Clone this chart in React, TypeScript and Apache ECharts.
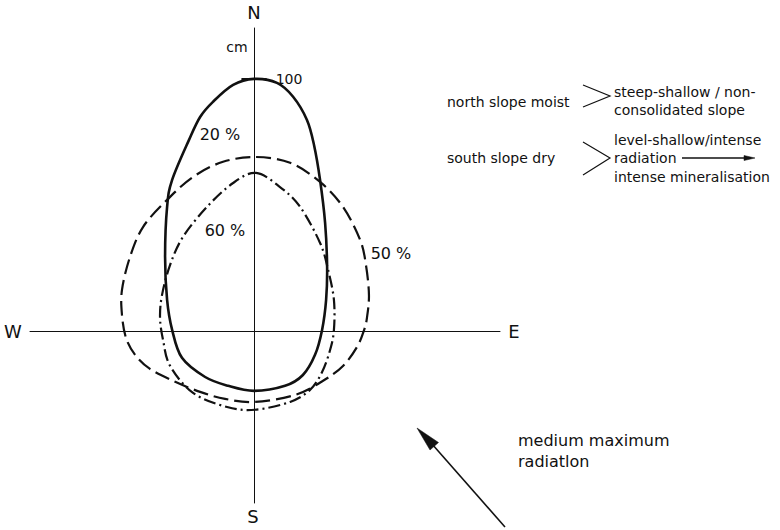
import React, { useEffect, useRef } from "react";
import * as echarts from "echarts";

// Closed curve outlines (x: W-E, y: S-N), in cm
const curve20: [number, number][] = [
  [0, 100], [9.1, 98.4], [15.5, 92.9], [21.0, 83.7], [23.8, 73.8], [26.2, 59.9],
  [28.2, 42.9], [29.0, 25.4], [28.6, 12.3], [27.0, 0.4], [24.2, -9.5], [19.4, -17.5],
  [12.3, -21.8], [0, -23.8], [-10.3, -21.8], [-19.4, -18.3], [-28.6, -10.7], [-32.5, 0.4],
  [-34.5, 12.3], [-35.3, 29.4], [-34.5, 49.2], [-32.5, 59.9], [-25.8, 75.8], [-21.4, 84.9],
  [-16.3, 90.9], [-8.3, 97.6],
];
const curve50: [number, number][] = [
  [0.8, 69.0], [14.3, 66.7], [26.2, 59.1], [35.3, 49.2], [42.1, 36.1], [44.4, 26.2],
  [45.6, 14.3], [44.8, 5.2], [43.7, 0.4], [40.9, -6.3], [35.3, -13.9], [27.4, -19.8],
  [16.3, -25.4], [0.4, -28.2], [-11.5, -27.0], [-21.4, -24.2], [-31.3, -20.2], [-41.3, -15.1],
  [-47.2, -9.5], [-50.8, -2.8], [-52.4, 6.3], [-52.4, 16.3], [-49.2, 29.4], [-44.0, 41.3],
  [-34.5, 52.0], [-24.2, 61.1], [-12.3, 67.1],
];
const curve60: [number, number][] = [
  [0.8, 62.7], [10.3, 57.1], [18.3, 49.2], [26.2, 34.9], [29.4, 24.2], [31.7, 12.3],
  [31.7, 0.4], [30.2, -7.5], [27.0, -16.3], [22.2, -23.4], [14.3, -28.2], [0.4, -31.3],
  [-10.7, -30.2], [-24.2, -24.6], [-33.3, -13.9], [-36.1, -3.6], [-37.3, 5.2], [-36.5, 14.3],
  [-33.3, 26.2], [-28.2, 37.3], [-18.7, 49.2], [-8.3, 58.7],
];
const seriesNames = ["20 %", "50 %", "60 %"];
const compass = ["N", "S", "W", "E"];
const tickValue = 100;
const unitLabel = "cm";
const northLines = ["north slope moist", "steep-shallow / non-", "consolidated slope"];
const southLines = ["south slope dry", "level-shallow/intense", "radiation", "intense mineralisation"];
const radiationLines = ["medium maximum", "radiatlon"];

const FONT = "DejaVu Sans";
const INK = "#111";

function txt(text: string, x: number, y: number, size: number, align = "left") {
  return {
    type: "text",
    x,
    y,
    silent: true,
    style: {
      text,
      font: `${size}px "${FONT}"`,
      fill: INK,
      align,
      verticalAlign: "middle",
      textAlign: align,
      textVerticalAlign: "middle",
    },
  };
}

// closed Catmull-Rom path through pixel points
function closedPath(pts: number[][]): string {
  const n = pts.length;
  let d = `M${pts[0][0]},${pts[0][1]}`;
  for (let i = 0; i < n; i++) {
    const p0 = pts[(i - 1 + n) % n];
    const p1 = pts[i];
    const p2 = pts[(i + 1) % n];
    const p3 = pts[(i + 2) % n];
    const c1x = p1[0] + (p2[0] - p0[0]) / 6;
    const c1y = p1[1] + (p2[1] - p0[1]) / 6;
    const c2x = p2[0] - (p3[0] - p1[0]) / 6;
    const c2y = p2[1] - (p3[1] - p1[1]) / 6;
    d += `C${c1x},${c1y},${c2x},${c2y},${p2[0]},${p2[1]}`;
  }
  return d + "Z";
}

function curveSeries(name: string, curve: [number, number][], width: number, dash: number[] | null, extra: any = {}) {
  return {
    type: "custom",
    name,
    coordinateSystem: "cartesian2d",
    silent: true,
    clip: false,
    z: 3,
    data: [curve[0]],
    renderItem: (_params: any, api: any) => {
      const pts = curve.map((p) => api.coord(p));
      return {
        type: "path",
        shape: { pathData: closedPath(pts) },
        style: {
          fill: "none",
          stroke: INK,
          lineWidth: width,
          lineDash: dash || undefined,
          lineCap: "butt",
          lineJoin: "round",
        },
      };
    },
    ...extra,
  };
}

export default function App() {
  const ref = useRef<HTMLDivElement>(null);
  useEffect(() => {
    if (!ref.current) return;
    const chart = echarts.init(ref.current, null, { renderer: "svg" });
    const axisCommon = {
      type: "value",
      axisLine: { show: true, onZero: true, lineStyle: { color: INK, width: 1 } },
      axisTick: { show: false },
      axisLabel: { show: false },
      splitLine: { show: false },
    };
    chart.setOption({
      animation: false,
      backgroundColor: "#fff",
      grid: { left: 30, right: 280, top: 28, bottom: 27 },
      xAxis: { ...axisCommon, min: -88.9, max: 97.6 },
      yAxis: { ...axisCommon, min: -68.3, max: 120.2 },
      series: [
        curveSeries(seriesNames[0], curve20, 2.6, null, {
          markLine: {
            silent: true,
            symbol: ["none", "none"],
            lineStyle: { color: INK, width: 2, type: "solid" },
            label: {
              show: true,
              position: "end",
              formatter: String(tickValue),
              distance: 9,
              color: INK,
              fontFamily: FONT,
              fontSize: 14,
            },
            data: [[{ coord: [-5, tickValue] }, { coord: [5, tickValue] }]],
          },
        }),
        curveSeries(seriesNames[1], curve50, 2.2, [15, 6]),
        curveSeries(seriesNames[2], curve60, 2.2, [12, 4, 2, 4]),
      ],
      graphic: [
        txt(compass[0], 254, 12, 18, "center"),
        txt(compass[1], 253, 516, 18, "center"),
        txt(compass[2], 13, 331, 18, "center"),
        txt(compass[3], 514, 331, 18, "center"),
        txt(unitLabel, 237, 47, 14, "center"),
        txt(seriesNames[0], 220, 134, 16, "center"),
        txt(seriesNames[2], 225, 230, 16, "center"),
        txt(seriesNames[1], 391, 253, 16, "center"),
        txt(northLines[0], 447, 102, 14),
        txt(northLines[1], 614, 92, 14),
        txt(northLines[2], 614, 110, 14),
        txt(southLines[0], 447, 158, 14),
        txt(southLines[1], 614, 140, 14),
        txt(southLines[2], 614, 158, 14),
        txt(southLines[3], 614, 177, 14),
        txt(radiationLines[0], 518, 440, 16),
        txt(radiationLines[1], 518, 461, 16),
        {
          type: "polyline",
          silent: true,
          shape: { points: [[583, 85], [610, 96], [583, 107]] },
          style: { stroke: INK, lineWidth: 1.2, fill: "none" },
        },
        {
          type: "polyline",
          silent: true,
          shape: { points: [[583, 142], [610, 158], [583, 175]] },
          style: { stroke: INK, lineWidth: 1.2, fill: "none" },
        },
        {
          type: "line",
          silent: true,
          shape: { x1: 682, y1: 158, x2: 746, y2: 158 },
          style: { stroke: INK, lineWidth: 1.3 },
        },
        {
          type: "polygon",
          silent: true,
          shape: { points: [[755, 158], [744, 155.5], [744, 160.5]] },
          style: { fill: INK, stroke: INK, lineWidth: 0.5 },
        },
        {
          type: "line",
          silent: true,
          shape: { x1: 505, y1: 527, x2: 432, y2: 444 },
          style: { stroke: INK, lineWidth: 1.6 },
        },
        {
          type: "polygon",
          silent: true,
          shape: { points: [[417, 428], [438.5, 442.5], [430, 450]] },
          style: { fill: INK, stroke: INK, lineWidth: 0.5 },
        },
      ],
    });
    return () => chart.dispose();
  }, []);
  return (
    <div
      ref={ref}
      style={{ position: "absolute", left: 0, top: 0, width: 780, height: 530, background: "#fff" }}
    />
  );
}
